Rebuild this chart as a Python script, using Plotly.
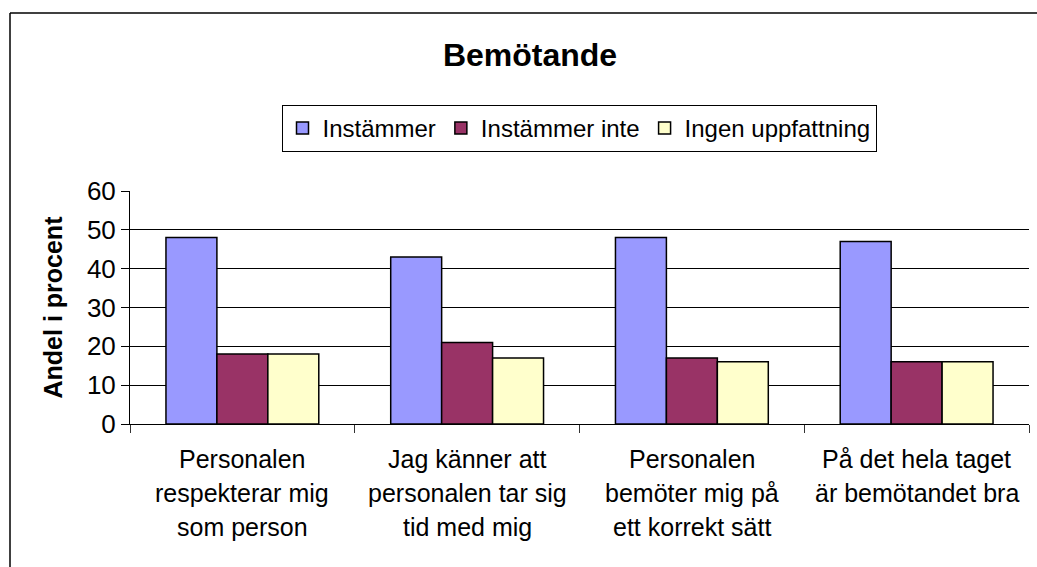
import plotly.graph_objects as go

categories = [
    "Personalen\nrespekterar mig\nsom person",
    "Jag känner att\npersonalen tar sig\ntid med mig",
    "Personalen\nbemöter mig på\nett korrekt sätt",
    "På det hela taget\när bemötandet bra",
]
series_names = ["Instämmer", "Instämmer inte", "Ingen uppfattning"]
instammer = [48, 43, 48, 47]
instammer_inte = [18, 21, 17, 16]
ingen_uppfattning = [18, 17, 16, 16]
colors = ["#9999FF", "#993366", "#FFFFCC"]
y_ticks = [0, 10, 20, 30, 40, 50, 60]

FONT = "Liberation Sans, Arial, sans-serif"
cat_keys = [f"c{i}" for i in range(len(categories))]

W, H = 1037, 567
L, R, T, B = 130, 8, 191, 143
PW = W - L - R
PH = H - T - B

fig = go.Figure()
for name, vals, col in zip(series_names, [instammer, instammer_inte, ingen_uppfattning], colors):
    fig.add_trace(go.Bar(
        x=cat_keys, y=vals, name=name,
        marker=dict(color=col, line=dict(color="black", width=1.5)),
    ))

for key, label in zip(cat_keys, categories):
    lines = label.split("\n")
    for j, line in enumerate(lines):
        fig.add_annotation(
            x=key, xref="x", y=0, yref="paper",
            yshift=-(35 + j * 34), text=line, showarrow=False,
            font=dict(family=FONT, size=25, color="black"),
            xanchor="center", yanchor="middle",
        )

fig.add_annotation(
    x=0, xref="paper", xshift=-78, y=0.5, yref="paper",
    text="<b>Andel i procent</b>", textangle=-90, showarrow=False,
    font=dict(family=FONT, size=25, color="black"),
    xanchor="center", yanchor="middle",
)

# outer frame: only left and top edges fall inside the page
fx0 = (10 - L) / PW
fy1 = (PH + T - 13) / PH
fig.add_shape(type="line", xref="paper", yref="paper",
              x0=fx0, x1=fx0, y0=-1.0, y1=fy1,
              line=dict(color="black", width=1.5), layer="below")
fig.add_shape(type="line", xref="paper", yref="paper",
              x0=fx0, x1=1.2, y0=fy1, y1=fy1,
              line=dict(color="black", width=1.5), layer="below")

fig.update_layout(
    width=W, height=H,
    margin=dict(l=L, r=R, t=T, b=B),
    paper_bgcolor="white", plot_bgcolor="white",
    font=dict(family=FONT, size=24, color="black"),
    barmode="group", bargap=0.32, bargroupgap=0,
    title=dict(text="<b>Bemötande</b>", x=(530 - L) / PW, xref="paper", xanchor="center",
               y=1 - 55 / H, yref="container", yanchor="middle",
               font=dict(family=FONT, size=32, color="black")),
    legend=dict(orientation="h", x=(579 - L) / PW, xanchor="center",
                y=(PH + T - 105) / PH, yanchor="top",
                bordercolor="black", borderwidth=1, bgcolor="white",
                font=dict(family=FONT, size=24, color="black"),
                itemwidth=30, tracegroupgap=0),
    showlegend=True,
)
fig.update_xaxes(
    type="category", showticklabels=False, tickson="boundaries",
    ticks="outside", ticklen=8, tickcolor="#333333", tickwidth=1,
    showline=True, linecolor="black", linewidth=1, showgrid=False,
)
fig.update_yaxes(
    range=[0, 60], tickvals=y_ticks, ticks="outside", ticklen=8,
    tickcolor="black", tickwidth=1, showline=True, linecolor="black", linewidth=1,
    showgrid=True, gridcolor="black", gridwidth=1, zeroline=False,
    tickfont=dict(family=FONT, size=26, color="black"),
)

fig.write_html("out.html", config={"displayModeBar": False},
               post_script="document.body.style.margin='0';document.body.style.overflow='hidden';")
